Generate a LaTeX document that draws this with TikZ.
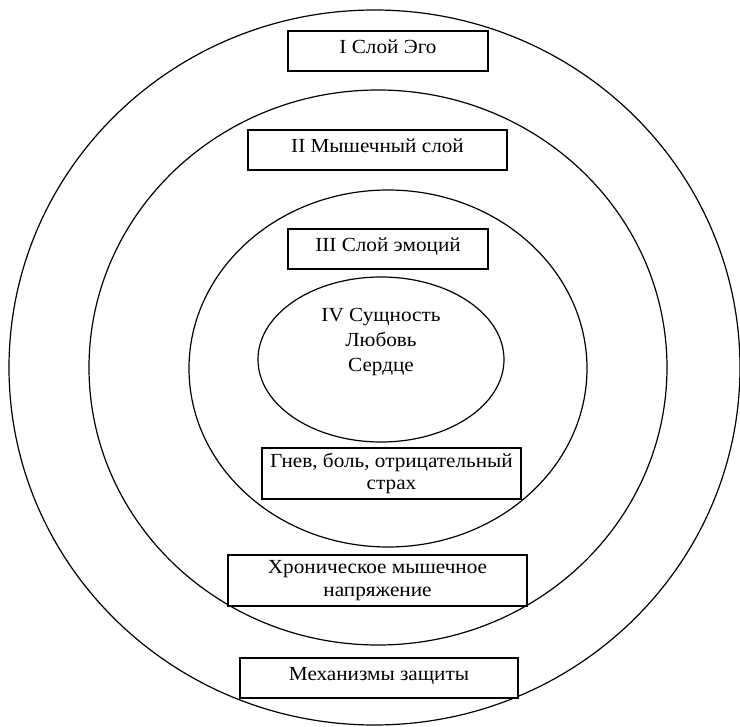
\documentclass[tikz,border=0pt]{standalone}
\usepackage{fontspec}
\setmainfont[FakeStretch=1.06]{Liberation Serif}
\usetikzlibrary{shapes.geometric}
\begin{document}
\begin{tikzpicture}[x=1pt,y=-1pt,
  ring/.style={draw, ellipse, line width=1.2pt, inner sep=0pt},
  lbl/.style={draw, line width=1.2pt, fill=white, font=\fontsize{20}{22.5}\selectfont, align=center, inner sep=0pt},
  one/.style={lbl, text height=14pt, text depth=9pt},
  txt/.style={font=\fontsize{20}{25}\selectfont, align=center, inner sep=0pt}
]
\useasboundingbox (0,0) rectangle (740,727);
\node[ring, minimum width=731pt, minimum height=715pt] (e1) at (374.5,367.5) {};
\node[ring, minimum width=578pt, minimum height=555pt] (e2) at (378,367.5) {};
\node[ring, minimum width=398pt, minimum height=357pt] (e3) at (388,368.5) {};
\node[ring, minimum width=246pt, minimum height=165pt] (e4) at (381,359.5) {};
\node[txt] (t4) at (381,342.5) {IV Сущность\\Любовь\\Сердце};
\node[one, minimum width=200pt, minimum height=40pt] (b1) at (388,51) {I Слой Эго};
\node[one, minimum width=259pt, minimum height=40pt] (b2) at (377.5,150) {II Мышечный слой};
\node[one, minimum width=200pt, minimum height=40pt] (b3) at (388,249) {III Слой эмоций};
\node[lbl, minimum width=259pt, minimum height=51pt] (b5) at (391.5,473.5) {Гнев, боль, отрицательный\\страх};
\node[lbl, minimum width=299pt, minimum height=51pt] (b6) at (377.5,580.5) {Хроническое мышечное\\напряжение};
\node[one, minimum width=278pt, minimum height=40pt] (b7) at (379,678) {Механизмы защиты};
\end{tikzpicture}
\end{document}
